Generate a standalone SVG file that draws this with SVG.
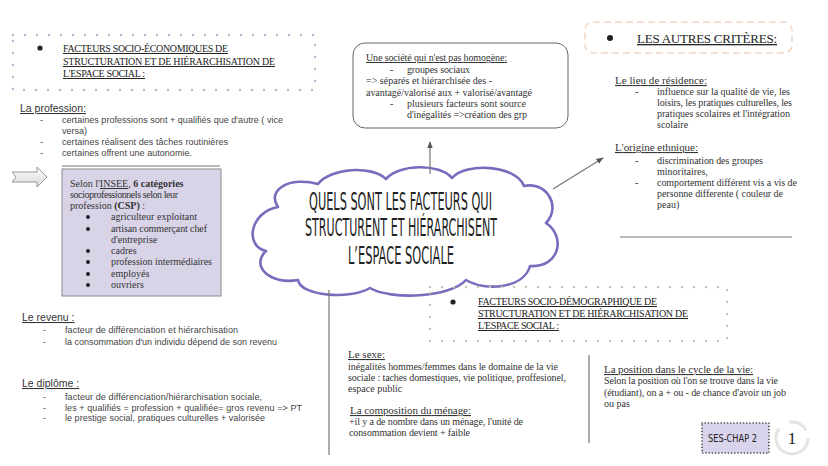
<svg xmlns="http://www.w3.org/2000/svg" width="828" height="466" viewBox="0 0 828 466">
<defs>
<marker id="ah" viewBox="0 0 10 10" refX="9" refY="5" markerWidth="6" markerHeight="6" orient="auto">
<path d="M0,1 L10,5 L0,9 Z" fill="#555"/>
</marker>
<linearGradient id="ag" x1="0" y1="0" x2="0" y2="1">
<stop offset="0" stop-color="#fafafa"/>
<stop offset="1" stop-color="#dcdcdc"/>
</linearGradient>
<style>
.hd{font-family:"Liberation Serif","DejaVu Serif",serif;font-size:10px;fill:#222;text-decoration:underline}
.sa{font-family:"Liberation Sans",Arial,sans-serif;font-size:9px;fill:#444}
.sat{font-family:"Liberation Sans",Arial,sans-serif;font-size:10.5px;fill:#333;text-decoration:underline}
.se{font-family:"Liberation Serif","DejaVu Serif",serif;font-size:10px;fill:#333}
.set{font-family:"Liberation Serif","DejaVu Serif",serif;font-size:11px;fill:#333;text-decoration:underline}
.nar{font-family:"Liberation Sans Narrow","DejaVu Sans Condensed","Liberation Sans",sans-serif;fill:#222}
.ln{stroke:#777;stroke-width:1.2;fill:none}
.dot1{fill:none;stroke:#b9b3d4;stroke-width:2.4;stroke-linecap:round;stroke-dasharray:0 12}
.dot2{fill:none;stroke:#c3c9b2;stroke-width:2.4;stroke-linecap:round;stroke-dasharray:0 12}
</style>
</defs>
<rect width="828" height="466" fill="#fff"/>

<g id="header-socio-eco">
<rect x="13" y="35" width="302" height="55" class="dot1"/>
<circle cx="40" cy="48" r="2.6" fill="#222"/>
<text class="hd" x="63" y="52" textLength="165">FACTEURS SOCIO-ÉCONOMIQUES DE</text>
<text class="hd" x="63" y="65" textLength="212">STRUCTURATION ET DE HIÉRARCHISATION DE</text>
<text class="hd" x="63" y="77" textLength="82">L'ESPACE SOCIAL :</text>
</g>

<g id="profession">
<text class="sat" x="20" y="112">La profession:</text>
<text class="sa" x="40" y="123">-</text>
<text class="sa" x="62" y="123" textLength="221">certaines professions sont + qualifiés que d'autre ( vice</text>
<text class="sa" x="62" y="134">versa)</text>
<text class="sa" x="40" y="145">-</text>
<text class="sa" x="62" y="145" textLength="166">certaines réalisent des tâches routinières</text>
<text class="sa" x="40" y="156">-</text>
<text class="sa" x="62" y="156" textLength="130">certaines offrent une autonomie.</text>
</g>

<g id="csp-box">
<rect x="62" y="169" width="159" height="127" fill="#d8d3e7" stroke="#8a8a8a" stroke-width="1"/>
<text class="se" x="70" y="187">Selon l'<tspan text-decoration="underline">INSEE</tspan>, <tspan font-weight="bold">6 catégories</tspan></text>
<text class="se" x="70" y="198" textLength="108">socioprofessionnels selon leur</text>
<text class="se" x="70" y="209">profession <tspan font-weight="bold">(CSP)</tspan> :</text>
<g fill="#222">
<circle cx="88" cy="217" r="2"/>
<circle cx="88" cy="229" r="2"/>
<circle cx="88" cy="251" r="2"/>
<circle cx="88" cy="262" r="2"/>
<circle cx="88" cy="274" r="2"/>
<circle cx="88" cy="285" r="2"/>
</g>
<text class="se" x="111" y="220" textLength="86">agriculteur exploitant</text>
<text class="se" x="111" y="232" textLength="96">artisan commerçant chef</text>
<text class="se" x="111" y="243">d'entreprise</text>
<text class="se" x="111" y="254">cadres</text>
<text class="se" x="111" y="265" textLength="101">profession intermédiaires</text>
<text class="se" x="111" y="277">employés</text>
<text class="se" x="111" y="288">ouvriers</text>
</g>

<g id="revenu">
<text class="sat" x="22" y="321">Le revenu :</text>
<text class="sa" x="43" y="333">-</text>
<text class="sa" x="65" y="333" textLength="173">facteur de différenciation et hiérarchisation</text>
<text class="sa" x="43" y="345">-</text>
<text class="sa" x="65" y="345" textLength="212">la consommation d'un individu dépend de son revenu</text>
</g>

<g id="diplome">
<text class="sat" x="22" y="387">Le diplôme :</text>
<text class="sa" x="43" y="400">-</text>
<text class="sa" x="65" y="400" textLength="197">facteur de différenciation/hiérarchisation sociale,</text>
<text class="sa" x="43" y="411">-</text>
<text class="sa" x="65" y="411" textLength="237">les + qualifiés = profession + qualifiée= gros revenu =&gt; PT</text>
<text class="sa" x="43" y="421">-</text>
<text class="sa" x="65" y="421" textLength="200">le prestige social, pratiques culturelles + valorisée</text>
</g>

<g id="societe-box">
<rect x="353" y="43" width="215" height="85" rx="12" fill="#fff" stroke="#666" stroke-width="1"/>
<text class="se" x="366" y="61" text-decoration="underline" textLength="141">Une société qui n'est pas homogène:</text>
<text class="se" x="390" y="73">-</text>
<text class="se" x="407" y="73" textLength="63">groupes sociaux</text>
<text class="se" x="366" y="84" textLength="126">=&gt; séparés et hiérarchisée des -</text>
<text class="se" x="366" y="96" textLength="166">avantagé/valorisé aux + valorisé/avantagé</text>
<text class="se" x="390" y="107">-</text>
<text class="se" x="407" y="107" textLength="119">plusieurs facteurs sont source</text>
<text class="se" x="407" y="118" textLength="120">d'inégalités =&gt;création des grp</text>
</g>

<g id="cloud">
<path d="M278,207 C266,190 290,176 318,184 C330,168 372,165 386,179 C398,164 440,163 452,178 C466,162 516,165 524,186 C546,181 562,206 546,223 C566,236 560,268 530,266 C524,288 486,292 466,280 C450,298 390,300 370,288 C350,300 300,296 298,280 C270,285 250,266 266,251 C244,246 250,212 278,207 Z" fill="#fff" stroke="#7a6cbc" stroke-width="2.6" stroke-linejoin="round"/>
<text class="nar" x="309" y="210" font-size="24" textLength="183" lengthAdjust="spacingAndGlyphs">QUELS SONT LES FACTEURS QUI</text>
<text class="nar" x="305" y="236" font-size="24" textLength="192" lengthAdjust="spacingAndGlyphs">STRUCTURENT ET HIÉRARCHISENT</text>
<text class="nar" x="348" y="264" font-size="24" textLength="106" lengthAdjust="spacingAndGlyphs">L’ESPACE SOCIALE</text>
</g>

<g id="autres-criteres">
<rect x="585" y="22" width="207" height="31" rx="8" fill="none" stroke="#f2d8c6" stroke-width="1.5" stroke-dasharray="7 4"/>
<circle cx="610" cy="38" r="3" fill="#222"/>
<text class="hd" x="637" y="43" style="font-size:13px" textLength="140">LES AUTRES CRITÈRES:</text>
</g>

<g id="residence">
<text class="set" x="615" y="84" textLength="92">Le lieu de résidence:</text>
<text class="se" x="635" y="95">-</text>
<text class="se" x="657" y="95" textLength="133">influence sur la qualité de vie, les</text>
<text class="se" x="657" y="106" textLength="135">loisirs, les pratiques culturelles, les</text>
<text class="se" x="657" y="117" textLength="133">pratiques scolaires et l'intégration</text>
<text class="se" x="657" y="128">scolaire</text>
</g>

<g id="origine">
<text class="set" x="615" y="151" textLength="83">L'origine ethnique:</text>
<text class="se" x="635" y="164">-</text>
<text class="se" x="657" y="164" textLength="106">discrimination des groupes</text>
<text class="se" x="657" y="175">minoritaires,</text>
<text class="se" x="635" y="186">-</text>
<text class="se" x="657" y="186" textLength="140">comportement différent vis a vis de</text>
<text class="se" x="657" y="197" textLength="126">personne differente ( couleur de</text>
<text class="se" x="657" y="208">peau)</text>
</g>

<g id="header-socio-demo">
<rect x="430" y="287" width="297" height="54" class="dot2"/>
<circle cx="453" cy="302" r="2.6" fill="#222"/>
<text class="hd" x="478" y="305" textLength="179">FACTEURS SOCIO-DÉMOGRAPHIQUE DE</text>
<text class="hd" x="478" y="317" textLength="210">STRUCTURATION ET DE HIÉRARCHISATION DE</text>
<text class="hd" x="478" y="329" textLength="81">L'ESPACE SOCIAL :</text>
</g>

<g id="sexe">
<text class="set" x="348" y="358">Le sexe:</text>
<text class="se" x="348" y="370" textLength="210">inégalités hommes/femmes dans le domaine de la vie</text>
<text class="se" x="348" y="381" textLength="218">sociale : taches domestiques, vie politique, proffesionel,</text>
<text class="se" x="348" y="392">espace public</text>
</g>

<g id="menage">
<text class="set" x="350" y="414" textLength="121">La composition du ménage:</text>
<text class="se" x="349" y="425" textLength="174">+il y a de nombre dans un ménage, l'unité de</text>
<text class="se" x="349" y="436" textLength="121">consommation devient + faible</text>
</g>

<g id="cycle-vie">
<text class="set" x="604" y="373" textLength="149">La position dans le cycle de la vie:</text>
<text class="se" x="604" y="384" textLength="174">Selon la position où l'on se trouve dans la vie</text>
<text class="se" x="604" y="396" textLength="182">(étudiant), on a + ou - de chance d'avoir un job</text>
<text class="se" x="604" y="407">ou pas</text>
</g>

<g id="page-tag">
<rect x="702" y="423" width="67" height="30" fill="#d9d3ec" stroke="#333" stroke-width="1.6" stroke-dasharray="0 3.2" stroke-linecap="round"/>
<text class="nar" x="708" y="442" font-size="11" textLength="49" lengthAdjust="spacingAndGlyphs">SES-CHAP 2</text>
<circle cx="792" cy="438" r="16" fill="none" stroke="#e4e4e4" stroke-width="3" stroke-dasharray="60 12 20 10"/>
<text x="792" y="444" text-anchor="middle" font-family="Liberation Serif,serif" font-size="17" fill="#222">1</text>
</g>

<g id="connectors">
<line class="ln" x1="430" y1="174" x2="430" y2="142" stroke="#555" marker-end="url(#ah)"/>
<line class="ln" x1="553" y1="189" x2="603" y2="158" stroke="#555" marker-end="url(#ah)"/>
<polygon points="12,172 37,172 37,167 47,177 37,187 37,182 12,182 16,177" fill="url(#ag)" stroke="#999" stroke-width="1"/>
<line class="ln" x1="62" y1="166" x2="220" y2="166"/>
<line class="ln" x1="620" y1="237" x2="792" y2="237"/>
<line class="ln" x1="329" y1="290" x2="329" y2="455"/>
<line class="ln" x1="589" y1="355" x2="589" y2="443"/>
</g>
</svg>
